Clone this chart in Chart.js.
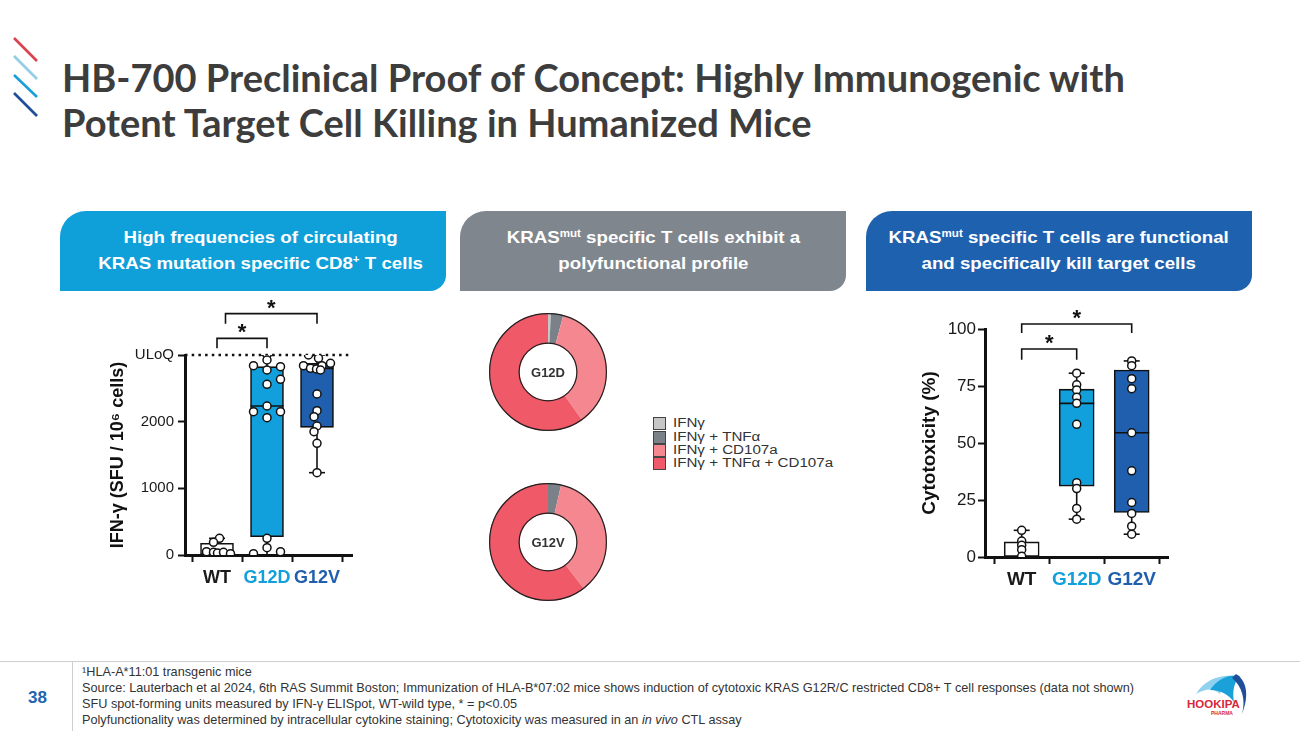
<!DOCTYPE html>
<html>
<head>
<meta charset="utf-8">
<script src="https://cdn.jsdelivr.net/npm/chart.js@4.4.1/dist/chart.umd.min.js"></script>
<style>
  body { margin: 0; width: 1300px; height: 731px; position: relative; overflow: hidden;
         background: #fff; font-family: "Liberation Sans", Arial, sans-serif; }
  .abs { position: absolute; }
  #title { left: 62px; top: 55px; font-family: Lato, sans-serif; font-weight: 700; font-size: 38px;
           line-height: 45px; color: #3d3d3d; white-space: nowrap; }
  .head { top: 211px; height: 80px; width: 386px; color: #fff; font-weight: 700; font-size: 17px;
          line-height: 26px; text-align: center; display: flex; align-items: center; justify-content: center;
          border-radius: 26px 0 16px 0; box-sizing: border-box; }
  .head > div { transform: scaleX(1.1); white-space: nowrap; }
  .head sup { font-size: 0.62em; line-height: 0; vertical-align: 0.55em; }
  #h1 { left: 60px; background: #0fa0d9; padding-left: 15px; }
  #h2 { left: 460px; background: #80868d; }
  #h3 { left: 866px; background: #1e62af; }
  .box { position: absolute; }
  #legend { left: 653px; top: 417px; font-size: 12.5px; color: #333; }
  #legend div { height: 13.4px; line-height: 13px; display: flex; align-items: center; white-space: nowrap; }
  #legend span.sw { width: 11px; height: 11px; border: 1px solid #444; margin-right: 7px; display: inline-block; flex: none; }
  #legend span.tx { display: inline-block; transform: scaleX(1.21); transform-origin: left center; }
  #foot-rule { left: 0; top: 661px; width: 1300px; height: 1px; background: #cfcfcf; }
  #foot-vrule { left: 72px; top: 662px; width: 1px; height: 69px; background: #cfcfcf; }
  #page { left: 28px; top: 688px; font-weight: 700; font-size: 17px; color: #1f63b0; }
  #notes { left: 82px; top: 664px; font-size: 12.7px; line-height: 16px; color: #333; white-space: nowrap; }
</style>
</head>
<body>

<svg class="abs" style="left:0;top:0" width="60" height="130">
  <line x1="14" y1="38" x2="37" y2="61" stroke="#d9434f" stroke-width="2.6"/>
  <line x1="14" y1="56" x2="37" y2="79" stroke="#93cde6" stroke-width="2.6"/>
  <line x1="14" y1="75" x2="37" y2="97" stroke="#1a9fd8" stroke-width="2.6"/>
  <line x1="14" y1="93" x2="37" y2="116" stroke="#1f4f99" stroke-width="2.6"/>
</svg>

<div id="title" class="abs">HB-700 Preclinical Proof of Concept: Highly Immunogenic with<br>Potent Target Cell Killing in Humanized Mice</div>

<div id="h1" class="abs head"><div>High frequencies of circulating<br>KRAS mutation specific CD8<sup>+</sup> T cells</div></div>
<div id="h2" class="abs head"><div>KRAS<sup>mut</sup> specific T cells exhibit a<br>polyfunctional profile</div></div>
<div id="h3" class="abs head"><div>KRAS<sup>mut</sup> specific T cells are functional<br>and specifically kill target cells</div></div>

<div class="box" style="left:100px;top:290px;width:262px;height:305px"><canvas id="ifnChart"></canvas></div>
<div class="box" style="left:489px;top:313px;width:118px;height:118px"><canvas id="donutD"></canvas></div>
<div class="box" style="left:489px;top:483px;width:118px;height:118px"><canvas id="donutV"></canvas></div>
<div id="legend" class="abs"></div>
<div class="box" style="left:900px;top:300px;width:280px;height:295px"><canvas id="cytoChart"></canvas></div>

<div id="foot-rule" class="abs"></div>
<div id="foot-vrule" class="abs"></div>
<div id="page" class="abs">38</div>
<div id="notes" class="abs">
  ¹HLA-A*11:01 transgenic mice<br>
  Source: Lauterbach et al 2024, 6th RAS Summit Boston; Immunization of HLA-B*07:02 mice shows induction of cytotoxic KRAS G12R/C restricted CD8+ T cell responses (data not shown)<br>
  SFU spot-forming units measured by IFN-γ ELISpot, WT-wild type, * = p&lt;0.05<br>
  Polyfunctionality was determined by intracellular cytokine staining; Cytotoxicity was measured in an <i>in vivo</i> CTL assay
</div>

<svg class="abs" style="left:1180px;top:668px" width="80" height="56">
  <path d="M16 26 C24 12 40 6 54 8 C46 12 42 18 40 26 C34 20 26 20 16 26 Z" fill="#8fd2f0"/>
  <path d="M30 22 C38 10 50 6 60 8 C54 14 52 24 54 34 C48 26 40 22 30 22 Z" fill="#1ba1da"/>
  <path d="M56 6 C66 12 70 26 62 46 C66 32 62 18 52 10 Z" fill="#1f4f99"/>
  <text x="7" y="40" font-family="Liberation Sans, Arial" font-weight="700" font-size="11.5" fill="#d6283b">HOOKIPA</text>
  <text x="31" y="47" font-family="Liberation Sans, Arial" font-weight="700" font-size="5" fill="#d6283b">PHARMA</text>
</svg>

<script>
// --- Data: IFN-γ ELISpot (SFU / 10^6 cells) ---
const groups = ['WT', 'G12D', 'G12V'];
const groupColors = ['#1a1a1a', '#12a0dc', '#1f5fae'];
const boxFills = ['#ffffff', '#12a0dc', '#1f5fae'];

const ifnMin    = [0, 0, 1235];
const ifnQ1     = [0, 275, 1915];
const ifnMedian = [null, 2235, 2800];
const ifnQ3     = [175, 2825, 2875];
const ifnMax    = [250, 3000, 3000];
const ifnULoQ = 3000;
const ifnTicks = [0, 1000, 2000, 3000];

const ifnWT       = [250, 190, 50, 40, 30, 40, 20];
const ifnWTJit    = [0.05, -0.07, -0.21, -0.07, 0.01, 0.13, 0.27];
const ifnG12D     = [3000, 2925, 2840, 2825, 2775, 2635, 2560, 2235, 2150, 2150, 2060, 250, 110, 20, 50];
const ifnG12DJit  = [0, 0, -0.27, 0.27, 0, 0.27, 0, 0, -0.27, 0.27, 0, 0, 0, -0.27, 0.27];
const ifnG12V     = [3000, 2950, 2840, 2800, 2790, 2840, 2875, 2775, 2415, 2165, 2075, 1935, 1850, 1675, 1235];
const ifnG12VJit  = [-0.17, 0.03, -0.27, -0.13, -0.01, 0.1, 0.27, 0.07, 0, 0, -0.06, 0, -0.06, 0, 0];

// significance brackets: [from group, to group, top, leg end]
const ifnBrackets = [[1, 2, 3250, 3100], [1.17, 3, 3620, 3470]];

// --- Data: in vivo CTL cytotoxicity (%) ---
const cytoMin    = [0, 16.6, 10];
const cytoQ1     = [0, 31.1, 19.5];
const cytoMedian = [null, 67.4, 54.5];
const cytoQ3     = [6.6, 73.6, 82];
const cytoMax    = [11.7, 80.6, 86];
const cytoWT   = [11.7, 7, 5.1, 3.2, 0.3];
const cytoG12D = [80.6, 75.5, 73.3, 70.1, 67.4, 58.2, 32.6, 30, 21.3, 16.6];
const cytoG12V = [86, 83.9, 78.2, 73.8, 54.5, 37.8, 23.9, 19.1, 13.5, 10];
const cytoBrackets = [[1, 2, 91.2, 86.5], [1, 3, 102.2, 98.2]];

// --- Data: polyfunctional profile (% of KRASmut specific T cells) ---
const polyLabels = ['IFNγ', 'IFNγ + TNFα', 'IFNγ + CD107a', 'IFNγ + TNFα + CD107a'];
const polyColors = ['#c6c6c6', '#7a8188', '#f4878f', '#f05a68'];
const polyG12D = [0.8, 3.4, 36, 59.8];
const polyG12V = [0, 3.6, 36, 60.4];

// --- Helpers ---

function pointsFor(values, groupIdx, jitter) {
    return values.map((v, i) => ({ x: groupIdx + 1 + (jitter ? jitter[i] : 0), y: v }));
}

function boxDatasets(stats, pointSets, boxWidth, brackets) {
    const ds = [];
    // significance brackets
    brackets.forEach(b => {
        ds.push({
            type: 'line', data: [{x: b[0], y: b[3]}, {x: b[0], y: b[2]}, {x: b[1], y: b[2]}, {x: b[1], y: b[3]}],
            borderColor: '#111', borderWidth: 1.6, pointRadius: 0, clip: false, order: 6,
        });
    });
    // whiskers
    groups.forEach((g, i) => {
        ds.push({
            type: 'line', data: [{x: i + 1, y: stats.min[i]}, {x: i + 1, y: stats.max[i]}],
            borderColor: '#111', borderWidth: 1.6, pointRadius: 0, order: 5,
        });
    });
    // whisker caps
    ds.push({
        type: 'scatter',
        data: groups.flatMap((g, i) => [{x: i + 1, y: stats.min[i]}, {x: i + 1, y: stats.max[i]}]),
        pointStyle: 'line', pointRadius: 8, borderColor: '#111', borderWidth: 1.6, order: 4,
    });
    // boxes
    ds.push({
        type: 'bar',
        data: groups.map((g, i) => ({x: i + 1, y: [stats.q1[i], stats.q3[i]]})),
        backgroundColor: boxFills, borderColor: '#111', borderWidth: 1.6, borderSkipped: false,
        barThickness: boxWidth, grouped: false, order: 3,
    });
    // medians
    ds.push({
        type: 'scatter',
        data: groups.map((g, i) => ({x: i + 1, y: stats.median[i]})),
        pointStyle: 'line', pointRadius: boxWidth / 2, borderColor: '#111', borderWidth: 1.6, order: 2,
    });
    // individual animals
    pointSets.forEach(p => {
        ds.push({
            type: 'scatter', data: p,
            pointRadius: 4, backgroundColor: '#fff', borderColor: '#111', borderWidth: 1.5, order: 0,
        });
    });
    return ds;
}

const starPlugin = {
    id: 'stars',
    afterDatasetsDraw(chart, args, opts) {
        const {ctx, scales: {x, y}} = chart;
        ctx.save();
        ctx.fillStyle = '#111';
        ctx.font = 'bold 22px "Liberation Sans", Arial';
        ctx.textAlign = 'center';
        ctx.textBaseline = 'alphabetic';
        opts.brackets.forEach(b => {
            ctx.fillText('*', x.getPixelForValue((b[0] + b[1]) / 2), y.getPixelForValue(b[2]) + 1);
        });
        ctx.restore();
    }
};

function boxOptions(cfg) {
    return {
        responsive: true,
        maintainAspectRatio: false,
        animation: false,
        layout: { padding: cfg.padding, autoPadding: false },
        plugins: { legend: { display: false }, tooltip: { enabled: false }, stars: { brackets: cfg.brackets } },
        scales: {
            x: {
                type: 'linear', min: cfg.xMin, max: cfg.xMax, offset: false,
                afterBuildTicks: s => { s.ticks = groups.map((g, i) => ({ value: i + 1 })); },
                afterFit: s => { s.height = cfg.xHeight; },
                border: { display: true, color: '#111', width: 3 },
                grid: { drawOnChartArea: false, drawTicks: true, tickLength: 7, tickWidth: 2, tickColor: '#111' },
                ticks: {
                    padding: cfg.xPad, autoSkip: false, maxRotation: 0,
                    font: { size: cfg.xFont, weight: 'bold', family: '"Liberation Sans", Arial' },
                    color: c => groupColors[c.index],
                    callback: v => groups[v - 1],
                },
            },
            y: {
                min: cfg.yMin, max: cfg.yMax,
                afterBuildTicks: s => { s.ticks = cfg.yTicks.map(v => ({ value: v })); },
                afterFit: s => { s.width = cfg.yWidth; },
                border: { display: true, color: '#111', width: 3 },
                grid: { drawOnChartArea: false, drawTicks: true, tickLength: 7, tickWidth: 2, tickColor: '#111' },
                ticks: {
                    padding: cfg.yPad, color: '#1a1a1a',
                    font: { size: cfg.yFont, family: '"Liberation Sans", Arial' },
                    callback: cfg.yLabel,
                },
                title: {
                    display: true, text: cfg.title, color: '#111',
                    padding: { top: cfg.titlePad, bottom: 4 },
                    font: { size: cfg.titleSize, weight: 'bold', family: '"Liberation Sans", Arial' },
                },
            },
        },
    };
}

// --- Left: IFN-γ ELISpot ---

const ifnData = boxDatasets(
    { min: ifnMin, q1: ifnQ1, median: ifnMedian, q3: ifnQ3, max: ifnMax },
    [pointsFor(ifnWT, 0, ifnWTJit), pointsFor(ifnG12D, 1, ifnG12DJit), pointsFor(ifnG12V, 2, ifnG12VJit)],
    33, ifnBrackets
);
// ULoQ dotted line
ifnData.push({
    type: 'line', data: [{x: 0.36, y: ifnULoQ}, {x: 3.7, y: ifnULoQ}],
    borderColor: '#111', borderWidth: 2.5, borderDash: [2.5, 4.2], pointRadius: 0, clip: false, order: 7,
});

new Chart(document.getElementById('ifnChart'), {
    type: 'scatter',
    data: { datasets: ifnData },
    options: boxOptions({
        padding: { top: 65, right: 10, left: 0, bottom: 0 },
        xMin: 0.36, xMax: 3.7, xHeight: 40, xPad: 5, xFont: 18,
        yMin: 0, yMax: 3000, yTicks: ifnTicks, yWidth: 85, yFont: 15, yPad: 4,
        yLabel: v => (v === ifnULoQ ? 'ULoQ' : v),
        title: 'IFN-γ (SFU / 10⁶ cells)', titleSize: 18, titlePad: 7,
        brackets: ifnBrackets,
    }),
    plugins: [starPlugin],
});

// --- Right: cytotoxicity ---

new Chart(document.getElementById('cytoChart'), {
    type: 'scatter',
    data: {
        datasets: boxDatasets(
            { min: cytoMin, q1: cytoQ1, median: cytoMedian, q3: cytoQ3, max: cytoMax },
            [pointsFor(cytoWT, 0), pointsFor(cytoG12D, 1), pointsFor(cytoG12V, 2)],
            35, cytoBrackets
        ),
    },
    options: boxOptions({
        padding: { top: 29, right: 12, left: 0, bottom: 0 },
        xMin: 0.333, xMax: 3.66, xHeight: 38, xPad: 4, xFont: 19,
        yMin: 0, yMax: 100, yTicks: [0, 25, 50, 75, 100], yWidth: 85, yFont: 17, yPad: 2,
        yLabel: v => v,
        title: 'Cytotoxicity (%)', titleSize: 19, titlePad: 18,
        brackets: cytoBrackets,
    }),
    plugins: [starPlugin],
});

// --- Middle: polyfunctional donuts ---

const donutPlugin = {
    id: 'donutDecor',
    afterDatasetsDraw(chart, args, opts) {
        const arc = chart.getDatasetMeta(0).data[0];
        const {ctx} = chart;
        ctx.save();
        ctx.strokeStyle = '#222';
        ctx.lineWidth = 1.2;
        ctx.beginPath();
        ctx.arc(arc.x, arc.y, arc.outerRadius - 0.6, 0, Math.PI * 2);
        ctx.stroke();
        ctx.beginPath();
        ctx.arc(arc.x, arc.y, arc.innerRadius + 0.6, 0, Math.PI * 2);
        ctx.stroke();
        ctx.fillStyle = '#333';
        ctx.font = 'bold 13px "Liberation Sans", Arial';
        ctx.textAlign = 'center';
        ctx.textBaseline = 'middle';
        ctx.fillText(opts.label, arc.x, arc.y + 1);
        ctx.restore();
    }
};

function makeDonut(id, values, label) {
    new Chart(document.getElementById(id), {
        type: 'doughnut',
        data: { labels: polyLabels, datasets: [{ data: values, backgroundColor: polyColors, borderWidth: 0 }] },
        options: {
            responsive: true, maintainAspectRatio: false, animation: false, cutout: '48%',
            plugins: { legend: { display: false }, tooltip: { enabled: false }, donutDecor: { label } },
        },
        plugins: [donutPlugin],
    });
}
makeDonut('donutD', polyG12D, 'G12D');
makeDonut('donutV', polyG12V, 'G12V');

const legend = document.getElementById('legend');
polyLabels.forEach((l, i) => {
    const row = document.createElement('div');
    row.innerHTML = `<span class="sw" style="background:${polyColors[i]}"></span><span class="tx">${l}</span>`;
    legend.appendChild(row);
});
</script>
</body>
</html>
